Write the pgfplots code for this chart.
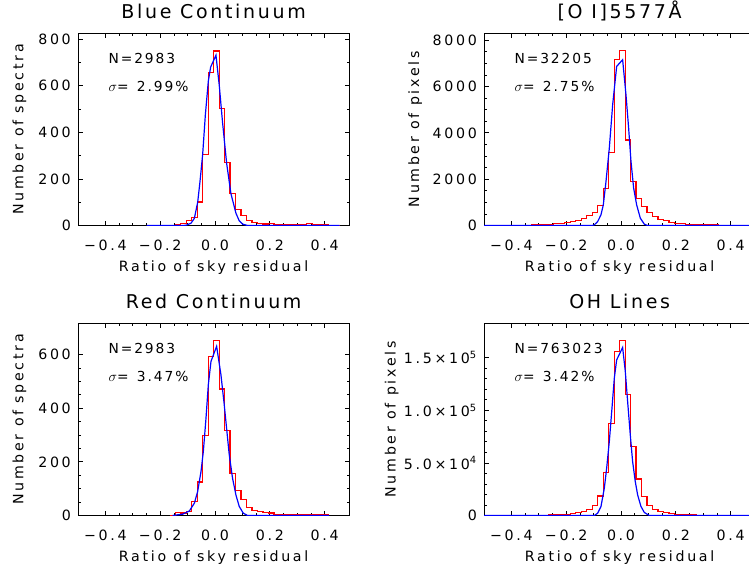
\documentclass[border=0pt]{standalone}
\usepackage{fontspec}
\setmainfont{DejaVu Sans}[LetterSpace=14]
\usepackage{pgfplots}
\pgfplotsset{compat=1.18}
\newcommand{\lbl}{\fontsize{14.2bp}{16bp}\selectfont\addfontfeatures{LetterSpace=19}}
\newcommand{\txt}{\fontsize{13.8bp}{16bp}\selectfont}
\newcommand{\ttl}{\fontsize{19bp}{22bp}\selectfont}
\pgfplotsset{
  myaxis/.style={
    scale only axis, width=271.3bp, height=192.2bp,
    xmin=-0.5, xmax=0.49, ymin=0,
    xtick={-0.4,-0.2,0,0.2,0.4},
    xticklabels={−0.4,−0.2,0.0,0.2,0.4},
    minor x tick num=3,
    tick align=inside,
    major tick length=4.5bp, minor tick length=2.5bp,
    axis line style={line width=1bp},
    every tick/.style={black, line width=0.8bp},
    tick label style={font=\lbl},
    label style={font=\lbl},
    xticklabel style={anchor=base, yshift=-25bp, inner sep=0pt},
    yticklabel style={anchor=east, inner sep=0pt, xshift=-7bp},
    xlabel={Ratio of sky residual},
    xlabel style={at={(axis description cs:0.5,-0.239)}, anchor=base},
    title style={at={(axis description cs:0.5,1)}, anchor=base, yshift=9bp, font=\ttl},
    scaled y ticks=false,
  },
  redh/.style={color=red, line width=1.2bp, const plot, mark=none},
  blueg/.style={color=blue, line width=1.2bp, mark=none},
}
\begin{document}
\begin{tikzpicture}
\useasboundingbox (0,0) rectangle (749bp,572bp);
% ---------------- Panel 1
\begin{axis}[myaxis, at={(78bp,346.5bp)}, anchor=south west,
  ymax=825, ytick={0,200,400,600,800}, yticklabels={0,200,400,600,800}, minor y tick num=1,
  title={Blue Continuum}, ylabel={Number of spectra},
  ylabel style={at={(axis description cs:-0.216,0.5)}, anchor=center}]
\addplot[redh] coordinates {(-0.245,0) (-0.225,0) (-0.205,0) (-0.185,0) (-0.165,1) (-0.145,3) (-0.125,10) (-0.105,20) (-0.085,36) (-0.065,101) (-0.045,306) (-0.025,656) (-0.005,749) (0.015,503) (0.035,269) (0.055,137) (0.075,69) (0.095,43) (0.115,20) (0.135,14) (0.155,10) (0.175,6) (0.195,10) (0.215,4) (0.235,3) (0.255,2) (0.275,3) (0.295,2) (0.315,4) (0.335,8) (0.355,3) (0.375,2) (0.395,2) (0.415,1) (0.435,1) (0.455,0)};
\addplot[blueg] coordinates {(-0.25,0) (-0.12,0) (-0.1056,1) (-0.0874,10) (-0.0753,31) (-0.0632,100) (-0.0547,190) (-0.045,306) (-0.0353,474) (-0.0244,620) (-0.0159,680) (0.0035,731) (0.0156,600) (0.0277,440) (0.0422,269) (0.058,137) (0.0763,53) (0.0884,20) (0.1004,6) (0.1186,0) (0.455,0)};
\node[anchor=base west, font=\txt] at (rel axis cs:0.0995,0.844) {N=2983};
\node[anchor=base west, font=\txt] at (rel axis cs:0.0995,0.696) {$\sigma$=\hspace{0.6em}2.99\%};
\end{axis}
% ---------------- Panel 2
\begin{axis}[myaxis, at={(484bp,346.5bp)}, anchor=south west,
  ymax=8298, ytick={0,2000,4000,6000,8000}, yticklabels={0,2000,4000,6000,8000}, minor y tick num=3,
  title={[O I]5577Å}, ylabel={Number of pixels},
  ylabel style={at={(axis description cs:-0.254,0.5)}, anchor=center}]
\addplot[redh] coordinates {(-0.505,3) (-0.485,4) (-0.465,5) (-0.445,6) (-0.425,8) (-0.405,10) (-0.385,12) (-0.365,14) (-0.345,17) (-0.325,20) (-0.305,26) (-0.285,35) (-0.265,48) (-0.245,70) (-0.225,100) (-0.205,128) (-0.185,171) (-0.165,229) (-0.145,315) (-0.125,416) (-0.105,570) (-0.085,850) (-0.065,1590) (-0.045,3150) (-0.025,7170) (-0.005,7544) (0.015,3690) (0.035,1890) (0.055,1160) (0.075,810) (0.095,560) (0.115,373) (0.135,272) (0.155,200) (0.175,143) (0.195,100) (0.215,72) (0.235,55) (0.255,44) (0.275,35) (0.295,28) (0.315,22) (0.335,18) (0.355,15) (0.375,12) (0.395,10) (0.415,8) (0.435,7) (0.455,6) (0.475,5) (0.495,4) (0.515,4)};
\addplot[blueg] coordinates {(-0.52,0) (-0.105,0) (-0.0974,30) (-0.0852,171) (-0.0731,460) (-0.0646,893) (-0.0548,1900) (-0.0427,3340) (-0.0305,5212) (-0.0159,6868) (0.0059,7155) (0.0181,5645) (0.0278,4205) (0.0364,2765) (0.0461,1613) (0.057,893) (0.0704,317) (0.085,58) (0.097,0) (0.52,0)};
\node[anchor=base west, font=\txt] at (rel axis cs:0.0995,0.844) {N=32205};
\node[anchor=base west, font=\txt] at (rel axis cs:0.0995,0.696) {$\sigma$=\hspace{0.6em}2.75\%};
\end{axis}
% ---------------- Panel 3
\begin{axis}[myaxis, at={(78bp,56.5bp)}, anchor=south west,
  ymax=717, ytick={0,200,400,600}, yticklabels={0,200,400,600}, minor y tick num=3,
  title={Red Continuum}, ylabel={Number of spectra},
  ylabel style={at={(axis description cs:-0.216,0.5)}, anchor=center}]
\addplot[redh] coordinates {(-0.165,0) (-0.145,12) (-0.125,9) (-0.105,15) (-0.085,52) (-0.065,125) (-0.045,299) (-0.025,594) (-0.005,652) (0.015,472) (0.035,316) (0.055,156) (0.075,93) (0.095,61) (0.115,31) (0.135,19) (0.155,15) (0.175,12) (0.195,9) (0.215,5) (0.235,3) (0.255,2) (0.275,4) (0.295,3) (0.315,2) (0.335,3) (0.355,2) (0.375,3) (0.395,2) (0.415,0)};
\addplot[blueg] coordinates {(-0.155,0) (-0.1178,5) (-0.0935,17) (-0.0753,46) (-0.0632,90) (-0.0511,164) (-0.0426,239) (-0.0329,363) (-0.0244,488) (-0.0147,575) (0.0059,631) (0.0216,525) (0.0337,413) (0.0422,326) (0.0519,227) (0.064,139) (0.0762,77) (0.0883,34) (0.1028,9) (0.1186,0) (0.416,0)};
\node[anchor=base west, font=\txt] at (rel axis cs:0.0995,0.844) {N=2983};
\node[anchor=base west, font=\txt] at (rel axis cs:0.0995,0.696) {$\sigma$=\hspace{0.6em}3.47\%};
\end{axis}
% ---------------- Panel 4
\begin{axis}[myaxis, at={(484bp,56.5bp)}, anchor=south west,
  ymax=182800, ytick={0,50000,100000,150000}, minor y tick num=4,
  yticklabels={0,5.0×10\textsuperscript{4},1.0×10\textsuperscript{5},1.5×10\textsuperscript{5}},
  title={OH Lines}, ylabel={Number of pixels},
  ylabel style={at={(axis description cs:-0.340,0.5)}, anchor=center}]
\addplot[redh] coordinates {(-0.505,30) (-0.485,40) (-0.465,50) (-0.445,60) (-0.425,75) (-0.405,90) (-0.385,110) (-0.365,140) (-0.345,170) (-0.325,220) (-0.305,280) (-0.285,360) (-0.265,480) (-0.245,650) (-0.225,900) (-0.205,1300) (-0.185,1900) (-0.165,2500) (-0.145,3800) (-0.125,5400) (-0.105,9500) (-0.085,18500) (-0.065,41000) (-0.045,87500) (-0.025,156000) (-0.005,166200) (0.015,115300) (0.035,66000) (0.055,34800) (0.075,17700) (0.095,9500) (0.115,5400) (0.135,3800) (0.155,2500) (0.175,1900) (0.195,1300) (0.215,900) (0.235,650) (0.255,480) (0.275,360) (0.295,280) (0.315,220) (0.335,170) (0.355,140) (0.375,110) (0.395,90) (0.415,75) (0.435,60) (0.455,50) (0.475,40) (0.495,30) (0.515,30)};
\addplot[blueg] coordinates {(-0.52,0) (-0.0974,0) (-0.0852,2200) (-0.0731,8600) (-0.0609,26000) (-0.0524,45000) (-0.0427,70400) (-0.033,102000) (-0.0245,130600) (-0.0159,148000) (0.0059,159800) (0.0156,137000) (0.0241,108500) (0.0338,76700) (0.0423,51400) (0.052,32300) (0.0606,19700) (0.0728,8600) (0.085,2900) (0.103,0) (0.52,0)};
\node[anchor=base west, font=\txt] at (rel axis cs:0.0995,0.844) {N=763023};
\node[anchor=base west, font=\txt] at (rel axis cs:0.0995,0.696) {$\sigma$=\hspace{0.6em}3.42\%};
\end{axis}
\end{tikzpicture}
\end{document}
